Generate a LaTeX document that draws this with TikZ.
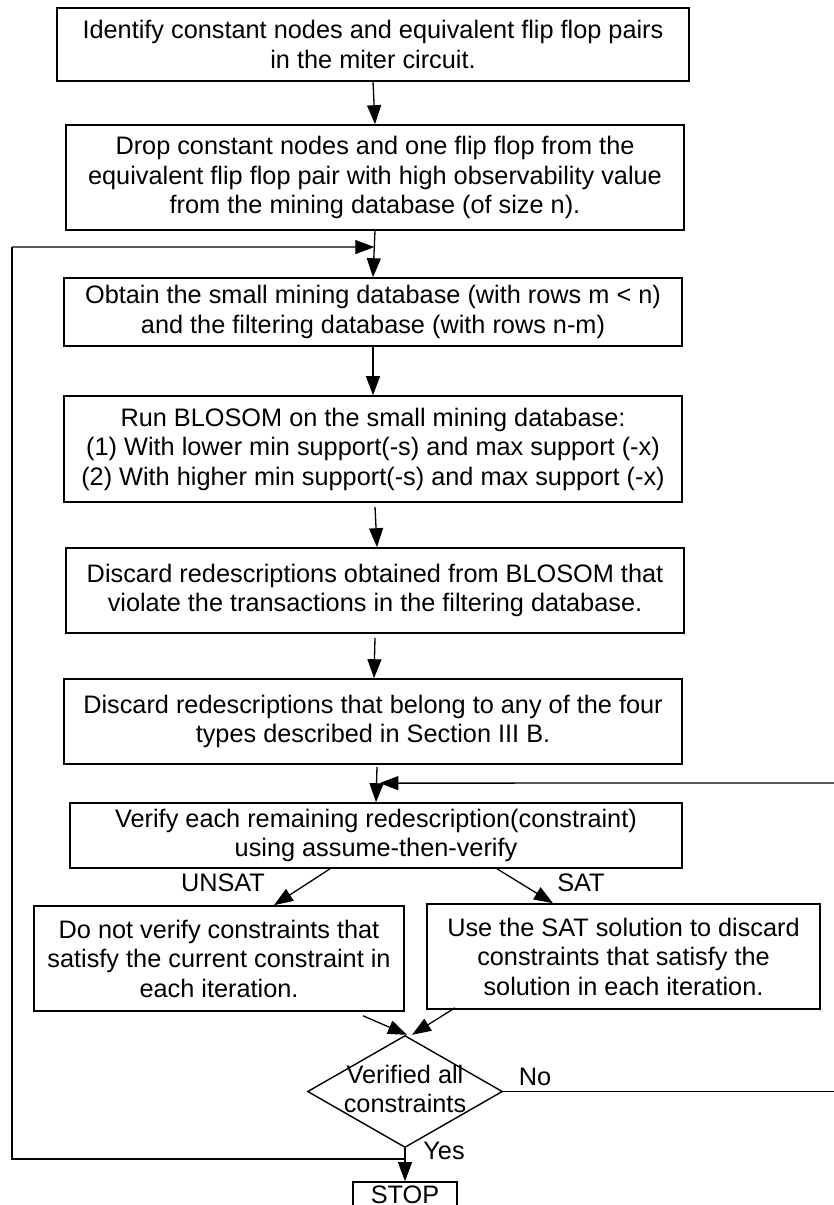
\documentclass[tikz,border=0pt]{standalone}
\usepackage{fontspec}
\setmainfont{Liberation Sans}
\usetikzlibrary{arrows.meta,shapes.geometric,calc}
\begin{document}
\begin{tikzpicture}[x=1pt,y=-1pt,
  font=\fontsize{25.3}{29.5}\selectfont,
  box/.style={draw,line width=1.6pt,align=center,inner sep=0pt},
  dia/.style={draw,diamond,line width=1.4pt,inner sep=0pt,minimum width=195pt,minimum height=112pt},
  arr/.style={line width=1.3pt,-{Triangle[length=19pt,width=14pt]}},
  ln/.style={line width=1.3pt},
  lbl/.style={inner sep=0pt}]
\clip (0,0) rectangle (834,1205);
\fill[white] (0,0) rectangle (834,1205);

\node[box,minimum width=632pt,minimum height=73pt] (B1) at (373,44.5)
  {Identify constant nodes and equivalent flip flop pairs\\in the miter circuit.};
\node[box,minimum width=618pt,minimum height=105pt] (B2) at (375,177.5)
  {Drop constant nodes and one flip flop from the\\equivalent flip flop pair with high observability value\\from the mining database (of size n).};
\node[box,minimum width=618pt,minimum height=68pt] (B3) at (373,312)
  {Obtain the small mining database (with rows m < n)\\and the filtering database (with rows n-m)};
\node[box,minimum width=618pt,minimum height=106pt] (B4) at (373,449)
  {Run BLOSOM on the small mining database:\\(1) With lower min support(-s) and max support (-x)\\(2) With higher min support(-s) and max support (-x)};
\node[box,minimum width=618pt,minimum height=85pt] (B5) at (375,590.5)
  {Discard redescriptions obtained from BLOSOM that\\violate the transactions in the filtering database.};
\node[box,minimum width=618pt,minimum height=85pt] (B6) at (373,721.5)
  {Discard redescriptions that belong to any of the four\\types described in Section III B.};
\node[box,minimum width=612pt,minimum height=65pt] (B7) at (376,835.5)
  {Verify each remaining redescription(constraint)\\using assume-then-verify};
\node[box,minimum width=370pt,minimum height=105pt] (B8) at (219,958.5)
  {Do not verify constraints that\\satisfy the current constraint in\\each iteration.};
\node[box,minimum width=393pt,minimum height=105pt] (B9) at (623.5,956.5)
  {Use the SAT solution to discard\\constraints that satisfy the\\solution in each iteration.};
\node[dia] (D) at (405,1091.5) {};
\node[lbl,align=center] (Dt) at (405,1089) {Verified all\\constraints};
\node[box,minimum width=104pt,minimum height=34pt] (S) at (405,1199) {\raisebox{9pt}{STOP}};

% main flow
\draw[arr] (B1.south) -- (B2.north);
\coordinate (j1) at ($(B2.south)!0.35!(B3.north)$);
\draw[arr] (B2.south) -- (B3.north);
\draw[arr] (B3.south) -- (B4.north);
\draw[arr] ([xshift=2pt,yshift=-4pt]B4.south) -- ([xshift=2pt]B5.north);
\draw[arr] ([yshift=-4pt]B5.south) -- ([xshift=1pt]B6.north);
\coordinate (j2) at ($(B6.south)!0.49!(B7.north)$);
\draw[arr] ([xshift=4pt,yshift=-2pt]B6.south) -- (B7.north);

% branches
\draw[arr] ($(B7.south)+(-46,0)$) -- ($(B8.north)+(55,0)$);
\draw[arr] ($(B7.south)+(121,0)$) -- ($(B9.north)+(-70.5,0)$);
\node[lbl] (lu) at (223,883) {UNSAT};
\node[lbl] (ls) at (581,883) {SAT};

\draw[arr] ($(B8.south)+(144,4)$) -- ($(D.north)+(2,0)$);
\draw[arr] ($(B9.south)+(-168.5,-2)$) -- ($(D.north)+(7,0)$);

% No loop
\coordinate (rc1) at (837,1091.5);
\coordinate (rc2) at (837,783);
\draw[ln] (D.east) -- (rc1) -- (rc2);
\draw[arr] (rc2) -- ([xshift=5pt]j2);
\node[lbl] (ln) at (535,1077) {No};

% Yes
\coordinate (j3) at ($(D.south)!0.32!(S.north)$);
\draw[arr] (D.south) -- (S.north);
\node[lbl] (ly) at (444,1151) {Yes};
\coordinate (lc1) at (12,1159);
\coordinate (lc2) at (12,247);
\draw[ln] (lc1 -| j3) -- (lc1) -- (lc2);
\draw[arr] (lc2) -- (j1);
\end{tikzpicture}
\end{document}
